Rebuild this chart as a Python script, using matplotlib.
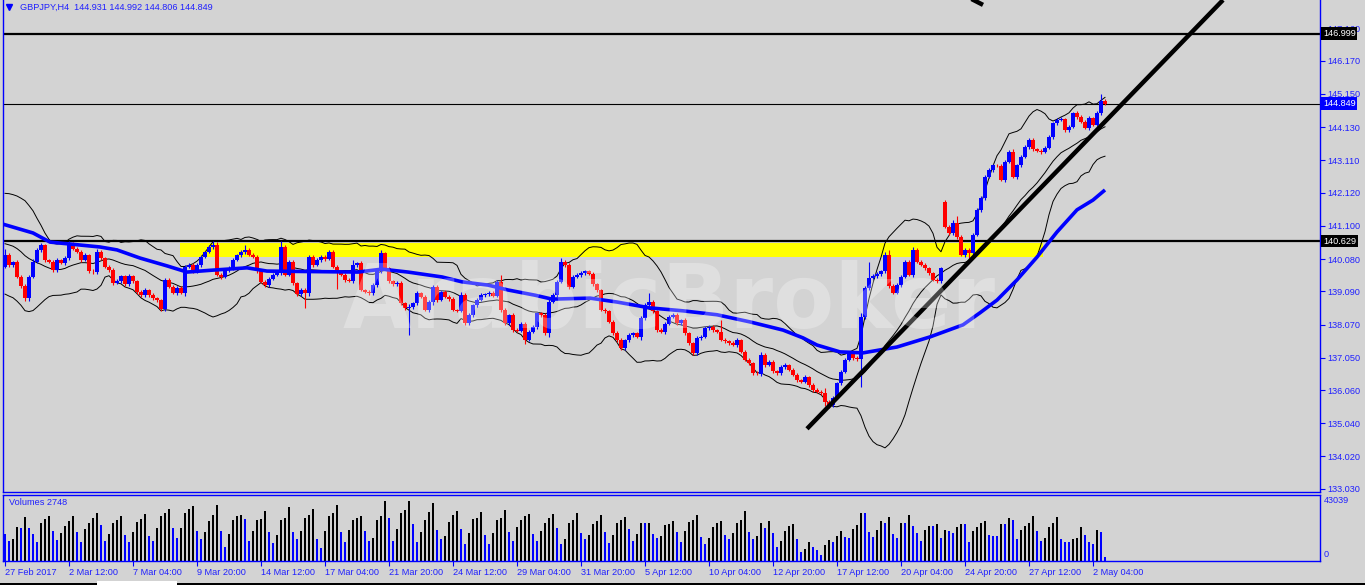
import numpy as np
import pandas as pd
import matplotlib
matplotlib.use('Agg')
import matplotlib.pyplot as plt

plt.rcParams['font.family'] = ['Liberation Sans', 'DejaVu Sans']

W, H = 1365, 585
BG = '#d3d3d3'
BLUE = '#0000ff'
RED = '#ff0000'
TXT = '#2020ff'

closes = [
    140.20, 139.90, 139.98, 139.54, 139.25, 138.88, 139.54, 140.00, 140.36, 140.50, 140.05, 140.00,
    139.74, 140.05, 139.96, 140.10, 140.56, 140.40, 140.30, 140.05, 140.20, 139.70, 139.68, 140.30,
    140.10, 139.85, 139.74, 139.35, 139.40, 139.55, 139.30, 139.55, 139.40, 139.08, 138.97, 139.13,
    138.97, 138.87, 138.82, 138.55, 139.44, 139.23, 139.05, 139.20, 139.05, 139.85, 139.90, 139.70,
    139.90, 140.15, 140.30, 140.46, 140.52, 139.60, 139.54, 139.74, 139.80, 140.05, 140.20, 140.30,
    140.36, 140.20, 140.15, 139.70, 139.38, 139.28, 139.48, 139.60, 139.64, 140.45, 139.60, 140.00,
    139.35, 139.00, 139.13, 139.05, 140.15, 139.90, 140.05, 140.15, 140.08, 140.30, 139.85, 139.70,
    139.60, 139.45, 139.40, 139.90, 139.95, 139.13, 139.08, 139.03, 139.28, 139.70, 140.25, 139.80,
    139.40, 139.30, 139.35, 138.72, 138.57, 138.60, 138.72, 139.03, 138.93, 138.52, 138.77, 139.23,
    138.82, 139.08, 138.93, 138.85, 138.52, 138.50, 138.98, 138.11, 138.36, 138.67, 138.82, 138.98,
    139.00, 139.05, 138.95, 139.39, 138.52, 138.11, 138.36, 137.90, 137.88, 138.10, 137.60, 137.85,
    138.00, 138.41, 138.36, 137.80, 138.77, 138.98, 139.39, 140.00, 139.90, 139.23, 139.54, 139.60,
    139.64, 139.70, 139.62, 139.30, 139.13, 138.52, 138.47, 138.16, 137.80, 137.60, 137.34, 137.60,
    137.75, 137.80, 137.70, 138.26, 138.67, 138.77, 138.47, 137.90, 137.85, 138.10, 138.31, 138.36,
    138.11, 138.21, 137.80, 137.49, 137.19, 137.65, 137.70, 137.95, 138.00, 137.90, 137.85, 137.60,
    137.55, 137.50, 137.45, 137.60, 137.24, 136.98, 136.88, 136.57, 136.55, 137.14, 136.83, 136.93,
    136.63, 136.57, 136.78, 136.83, 136.68, 136.52, 136.37, 136.32, 136.45, 136.22, 136.06, 136.00,
    135.96, 135.70, 135.60, 135.81, 136.27, 136.62, 136.98, 137.19, 137.05, 137.00, 138.31, 139.18,
    139.50, 139.55, 139.62, 139.70, 140.20, 139.25, 139.05, 139.28, 139.54, 140.00, 139.60, 140.36,
    140.00, 139.90, 139.80, 139.64, 139.44, 139.40, 139.80, 141.07, 140.87, 141.20, 140.76, 140.20,
    140.36, 140.25, 140.82, 141.58, 141.94, 142.60, 142.81, 142.96, 142.95, 142.50, 143.07, 143.37,
    142.60, 142.96, 143.22, 143.53, 143.73, 143.45, 143.40, 143.37, 143.50, 143.83, 144.25, 144.35,
    144.38, 144.04, 144.14, 144.55, 144.45, 144.30, 144.10, 144.40, 144.20, 144.55, 144.931, 144.849,
]
first_open = 139.84
gap_opens = {235: 141.84}  # Monday gap after the weekend

# wick lengths above / below the body, in pips (0.01)
wick_up = [
    20, 6, 5, 8, 4, 6, 5, 7, 6, 6, 5, 4,
    6, 5, 4, 6, 8, 5, 4, 6, 5, 4, 6, 8,
    5, 4, 6, 5, 7, 5, 4, 6, 5, 4, 6, 5,
    4, 6, 5, 4, 5, 6, 4, 5, 6, 5, 7, 5,
    6, 5, 4, 6, 10, 8, 5, 4, 6, 5, 4, 6,
    15, 5, 6, 4, 5, 6, 4, 5, 6, 18, 7, 5,
    6, 4, 5, 6, 5, 4, 6, 5, 4, 7, 5, 6,
    4, 5, 6, 15, 5, 6, 4, 5, 6, 5, 12, 6,
    5, 4, 6, 5, 4, 10, 5, 6, 4, 5, 6, 5,
    6, 5, 4, 6, 5, 4, 8, 6, 5, 4, 6, 5,
    4, 6, 5, 6, 20, 5, 4, 6, 5, 4, 6, 5,
    6, 5, 4, 6, 8, 5, 6, 10, 5, 6, 4, 5,
    6, 5, 4, 6, 5, 4, 6, 5, 4, 6, 5, 4,
    6, 5, 4, 8, 6, 26, 5, 4, 6, 5, 4, 6,
    5, 4, 6, 5, 4, 6, 5, 8, 6, 5, 4, 36,
    5, 4, 6, 5, 4, 6, 5, 4, 6, 10, 5, 6,
    4, 5, 6, 5, 4, 6, 5, 4, 6, 5, 4, 6,
    5, 15, 4, 6, 5, 6, 5, 6, 4, 5, 10, 8,
    50, 6, 5, 4, 10, 15, 5, 6, 4, 6, 5, 8,
    5, 4, 6, 5, 4, 6, 5, 5, 6, 8, 20, 5,
    6, 5, 6, 8, 6, 5, 6, 5, 4, 6, 5, 6,
    10, 5, 6, 5, 6, 5, 4, 6, 5, 6, 5, 6,
    5, 4, 6, 5, 6, 5, 4, 6, 5, 6, 21, 6,
]
wick_dn = [
    5, 6, 5, 4, 6, 8, 8, 5, 4, 6, 5, 4,
    6, 5, 4, 5, 6, 4, 5, 6, 4, 6, 5, 5,
    4, 6, 5, 6, 4, 5, 6, 4, 5, 6, 4, 5,
    6, 4, 5, 6, 6, 5, 4, 6, 5, 10, 6, 4,
    5, 6, 4, 5, 6, 5, 6, 4, 5, 6, 4, 5,
    6, 4, 5, 6, 4, 5, 6, 4, 5, 6, 5, 4,
    6, 5, 4, 48, 10, 5, 4, 6, 5, 4, 6, 55,
    5, 6, 4, 5, 6, 4, 5, 6, 4, 6, 5, 4,
    6, 5, 4, 6, 5, 82, 4, 6, 5, 4, 6, 10,
    5, 4, 6, 5, 4, 6, 5, 6, 4, 5, 6, 4,
    5, 6, 4, 5, 6, 5, 4, 6, 5, 4, 12, 5,
    4, 6, 5, 4, 10, 5, 6, 4, 5, 6, 4, 5,
    6, 5, 4, 6, 5, 4, 6, 5, 4, 6, 5, 4,
    6, 5, 4, 10, 5, 4, 6, 5, 4, 6, 5, 4,
    6, 5, 4, 6, 5, 4, 6, 5, 4, 6, 5, 4,
    6, 5, 4, 6, 5, 4, 6, 5, 4, 6, 5, 4,
    6, 5, 4, 6, 5, 4, 6, 5, 4, 6, 5, 4,
    6, 12, 8, 5, 4, 6, 5, 4, 6, 5, 85, 6,
    5, 4, 6, 5, 4, 6, 5, 4, 6, 5, 4, 6,
    5, 4, 6, 5, 4, 6, 5, 5, 4, 6, 5, 4,
    6, 20, 5, 4, 6, 5, 4, 6, 5, 4, 6, 5,
    4, 6, 5, 4, 6, 5, 4, 6, 5, 4, 6, 5,
    4, 6, 5, 4, 6, 5, 4, 6, 5, 4, 6, 4,
]
# closes before the visible window (needed for the 20-bar Bollinger bands)
pre_closes = [140.6, 140.8, 141.0, 141.2, 141.3, 141.3, 141.3, 141.6, 141.5, 141.3,
              141.0, 140.6, 140.2, 139.8, 139.5, 139.4, 139.5, 139.6, 139.3]

# tick volume in thousands; bar 0 = 27 Feb 20:00, then one row per day 00:00..20:00
volumes = [18.6,
    13.6, 15.2, 23.4, 22.5, 30.7, 22.5,
    18.5, 13.0, 26.5, 28.8, 31.2, 21.0,
    14.5, 19.5, 24.0, 27.5, 31.0, 20.0,
    13.0, 22.0, 26.0, 29.5, 33.5, 25.0,
    13.5, 19.0, 26.0, 28.0, 31.2, 18.0,
    13.0, 20.0, 27.0, 29.0, 32.5, 17.5,
    13.5, 23.0, 31.0, 33.0, 35.7, 23.0,
    16.0, 23.0, 33.5, 36.0, 38.0, 21.0,
    15.5, 20.0, 27.5, 32.0, 38.7, 21.0,
    9.5, 18.5, 28.0, 31.0, 31.9, 29.0,
    13.5, 21.0, 28.5, 29.0, 34.8, 20.0,
    12.5, 18.0, 28.0, 29.5, 37.3, 20.0,
    15.0, 20.5, 29.5, 31.5, 36.0, 15.5,
    9.0, 21.0, 31.0, 33.0, 38.7, 20.0,
    13.0, 21.5, 28.0, 30.0, 31.4, 21.0,
    13.5, 16.0, 28.0, 31.0, 41.7, 30.0,
    13.5, 22.0, 33.0, 35.0, 41.7, 25.5,
    13.0, 20.0, 28.0, 34.0, 40.0, 21.5,
    15.0, 17.5, 27.0, 32.0, 34.8, 22.0,
    12.0, 19.5, 29.0, 30.0, 34.0, 18.0,
    11.5, 19.5, 28.5, 30.0, 35.0, 20.0,
    13.5, 23.5, 28.0, 31.0, 32.5, 19.0,
    14.0, 20.5, 26.0, 30.0, 32.5, 22.5,
    12.0, 15.5, 26.5, 28.0, 33.5, 19.5,
    15.0, 18.0, 25.5, 27.5, 31.9, 20.0,
    12.5, 18.0, 26.0, 28.0, 30.7, 22.0,
    13.5, 19.0, 26.5, 26.0, 26.6, 18.5,
    16.0, 17.0, 25.0, 25.5, 27.3, 20.0,
    13.0, 21.0, 27.0, 28.5, 31.9, 16.5,
    12.0, 16.0, 23.5, 26.5, 27.3, 18.0,
    15.0, 19.5, 26.0, 28.5, 34.8, 20.0,
    15.0, 17.5, 26.5, 22.5, 27.3, 19.5,
    9.5, 14.0, 21.0, 24.5, 25.7, 15.5,
    6.0, 8.0, 13.0, 10.0, 7.5, 4.0,
    11.0, 14.5, 13.0, 17.0, 20.5, 16.5,
    16.0, 22.0, 25.0, 33.5, 33.5, 20.0,
    16.5, 21.5, 27.5, 26.0, 30.7, 19.0,
    16.0, 26.5, 26.0, 31.9, 24.0, 19.5,
    13.5, 21.5, 24.5, 24.5, 25.5, 16.0,
    21.5, 21.0, 19.5, 23.5, 25.7, 25.7,
    13.0, 20.5, 23.5, 26.0, 27.3, 18.0,
    17.5, 17.5, 25.5, 25.5, 30.0, 28.0,
    15.5, 21.5, 24.0, 26.5, 31.4, 21.0,
    13.5, 16.0, 23.5, 26.5, 30.3, 15.5,
    13.0, 13.0, 15.5, 16.0, 23.4, 18.0,
    13.0, 12.0, 21.2, 19.8, 2.748,
]

# blue moving average, read at points along the line
ma_bars = [-0.5, 7, 11.25, 16.25, 23.75, 28, 33.75, 40.5, 45.5, 52, 60.5, 65.5, 88.25, 94.25,
           100.75, 109.25, 114.25, 120.75, 125.75, 132.5, 136.75, 146.25, 153, 161.25, 169.5,
           178, 186.25, 194.5, 199.5, 203, 208.75, 214.5, 223, 231.25, 239.5, 243.75, 248,
           253, 258, 263, 268, 272, 275]
ma_vals = [141.15, 140.88, 140.60, 140.54, 140.45, 140.36, 140.11, 139.87, 139.68, 139.74,
           139.81, 139.71, 139.68, 139.77, 139.68, 139.53, 139.38, 139.28, 139.13, 138.97,
           138.85, 138.88, 138.76, 138.58, 138.49, 138.37, 138.15, 137.90, 137.66, 137.44,
           137.23, 137.20, 137.38, 137.69, 138.06, 138.43, 138.82, 139.44, 140.14, 140.91,
           141.59, 141.89, 142.20]

level_prices = [146.999, 144.849, 140.629]
zone_bars = [43.75, 259.5]
zone_prices = [140.14, 140.57]
trend_bars = [200.5, 304.5]
trend_prices = [134.87, 148.03]
trend2_bars = [241.0, 244.5]
trend2_prices = [148.10, 147.88]

price_ticks = [147.160, 146.170, 145.150, 144.130, 143.110, 142.120, 141.100, 140.080,
               139.090, 138.070, 137.050, 136.060, 135.040, 134.020, 133.030]
date_labels = ['27 Feb 2017', '2 Mar 12:00', '7 Mar 04:00', '9 Mar 20:00', '14 Mar 12:00',
               '17 Mar 04:00', '21 Mar 20:00', '24 Mar 12:00', '29 Mar 04:00', '31 Mar 20:00',
               '5 Apr 12:00', '10 Apr 04:00', '12 Apr 20:00', '17 Apr 12:00', '20 Apr 04:00',
               '24 Apr 20:00', '27 Apr 12:00', '2 May 04:00']

# ---- prepare ohlc ----
n = len(closes)
opens = [first_open] + closes[:-1]
for k, v in gap_opens.items():
    opens[k] = v
o = np.array(opens)
c = np.array(closes)
hi = np.maximum(o, c) + np.array(wick_up) / 100
lo = np.minimum(o, c) - np.array(wick_dn) / 100
x = np.arange(n)
col = np.where(c >= o, BLUE, RED)

s = pd.Series(pre_closes + closes)
mid = s.rolling(20).mean()
sd = s.rolling(20).std(ddof=0)
xb = np.arange(-len(pre_closes), n)
keep = xb >= 0

fig = plt.figure(figsize=(W / 100, H / 100), dpi=100, facecolor=BG)

# ---- price panel ----
ax = fig.add_axes([3 / W, 1 - 492 / H, 1317 / W, 492 / H], facecolor=BG)
ax.set_xlim(-0.5, 328.75)
ax.set_ylim(132.93, 148.03)

ax.fill_between(zone_bars, zone_prices[0], zone_prices[1], color='#ffff00', lw=0, zorder=0.5)
for line in (mid + 2 * sd, mid, mid - 2 * sd):
    ax.plot(xb[keep], line.values[keep], color='black', lw=0.7, zorder=2)
ax.axhline(level_prices[0], color='black', lw=1.6, zorder=2)
ax.axhline(level_prices[1], color='black', lw=0.8, zorder=2)
ax.axhline(level_prices[2], color='black', lw=1.6, zorder=2)

ax.vlines(x, lo, hi, colors=col, lw=0.8, zorder=3)
body = np.where(np.abs(c - o) < 0.02, 0.02, c - o)
ax.bar(x, body, bottom=o, width=0.78, color=col, lw=0, zorder=3)

ax.plot(ma_bars, ma_vals, color=BLUE, lw=2.6, solid_capstyle='butt', zorder=4)
ax.plot(trend_bars, trend_prices, color='black', lw=3.2, solid_capstyle='butt', zorder=5)
ax.plot(trend2_bars, trend2_prices, color='black', lw=3.2, solid_capstyle='butt', zorder=5)

ax.yaxis.tick_right()
ax.set_yticks(price_ticks)
ax.set_yticklabels([f'{v:.3f}' for v in price_ticks])
ax.tick_params(axis='y', colors=BLUE, labelcolor=TXT, length=3.5, width=0.8, pad=2, labelsize=6.6)
ax.set_xticks([])
ax.spines['top'].set_visible(False)
for sp in ('left', 'right', 'bottom'):
    ax.spines[sp].set_color(BLUE)
    ax.spines[sp].set_linewidth(1)

for v, bg in zip(level_prices, ['black', BLUE, 'black']):
    ax.text(1.0022, v, f'{v:.3f}', transform=ax.get_yaxis_transform(), color='white',
            fontsize=6.6, va='center', ha='left', clip_on=False, zorder=10,
            bbox=dict(boxstyle='square,pad=0.18', fc=bg, ec='none'))

ax.plot([6 / 1317], [1 - 7 / 492], marker='v', ms=4, color=BLUE, transform=ax.transAxes, clip_on=False)
ax.text(17 / 1317, 1 - 7 / 492, 'GBPJPY,H4  144.931 144.992 144.806 144.849', transform=ax.transAxes,
        color=TXT, fontsize=6.6, va='center', ha='left')

# ---- volume panel ----
axv = fig.add_axes([3 / W, 1 - 561 / H, 1317 / W, 66 / H], facecolor=BG)
axv.set_xlim(-0.5, 328.75)
axv.set_ylim(0, 45600)
vol = np.array(volumes) * 1000
vcol = [BLUE] + ['black' if vol[i] > vol[i - 1] else BLUE for i in range(1, n)]
axv.bar(x, vol, width=0.62, color=vcol, lw=0)
axv.set_yticks([])
axv.set_xticks(np.arange(0, 16 * len(date_labels), 16))
axv.set_xticklabels(date_labels, ha='left')
axv.tick_params(axis='x', colors=BLUE, labelcolor=TXT, length=3.5, width=0.8, pad=1.5, labelsize=6.6)
for sp in axv.spines.values():
    sp.set_color(BLUE)
    sp.set_linewidth(1)
axv.text(6 / 1317, 0.88, 'Volumes 2748', transform=axv.transAxes, color=TXT, fontsize=6.6, va='center')
axv.text(1.003, 0.91, '43039', transform=axv.transAxes, color=TXT, fontsize=6.6, va='center')
axv.text(1.003, 0.1, '0', transform=axv.transAxes, color=TXT, fontsize=6.6, va='center')

# watermark
fig.text(343 / W, 1 - 328 / H, 'ArabicBroker', family='DejaVu Sans', fontweight='bold', fontsize=64,
         color='white', alpha=0.28, va='baseline', ha='left', zorder=20)

# terminal tab strip at the bottom
fig.add_artist(plt.Rectangle((0, 0), 1, 2.5 / H, transform=fig.transFigure, color='black', lw=0))
fig.add_artist(plt.Rectangle((97 / W, 0), 80 / W, 4 / H, transform=fig.transFigure, color='white', lw=0))

fig.savefig('out.png', dpi=100, facecolor=BG)
